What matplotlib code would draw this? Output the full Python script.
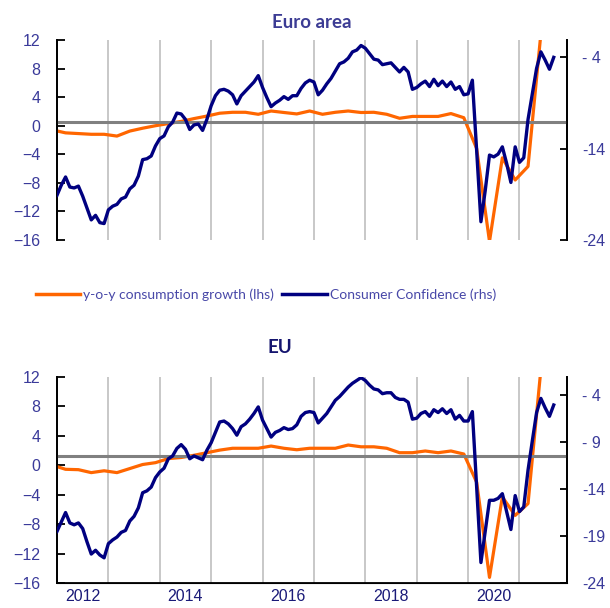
import numpy as np
import matplotlib.pyplot as plt
from matplotlib.lines import Line2D
from matplotlib.ticker import FuncFormatter

plt.rcParams['font.family'] = ['Liberation Sans', 'DejaVu Sans']

# ---------------------- Data -------------------
# consumer confidence, monthly, Jan 2012 .. Sep 2021 (rhs)
conf_ea = [-19.1, -18.0, -17.1, -18.2, -18.3, -18.1, -19.2, -20.5, -21.8, -21.3, -22.1, -22.2,
           -20.7, -20.3, -20.1, -19.5, -19.3, -18.4, -18.0, -17.0, -15.2, -15.1, -14.8, -13.7,
           -12.9, -12.6, -11.6, -11.1, -10.1, -10.2, -10.8, -11.9, -11.4, -11.3, -12.0, -10.8,
           -9.3, -8.2, -7.6, -7.5, -7.7, -8.1, -9.1, -8.2, -7.7, -7.2, -6.7, -6.0,
           -7.3, -8.4, -9.4, -9.0, -8.7, -8.3, -8.6, -8.2, -8.2, -7.4, -6.8, -6.5,
           -6.7, -8.1, -7.6, -6.9, -6.3, -5.5, -4.7, -4.5, -4.1, -3.4, -3.2, -2.7,
           -3.0, -3.6, -4.2, -4.3, -4.8, -4.7, -4.6, -5.1, -5.6, -5.1, -5.6, -7.5,
           -7.3, -6.9, -6.6, -7.2, -6.4, -7.1, -6.6, -7.2, -6.7, -7.5, -7.2, -8.1,
           -8.0, -6.5, -14.2, -22.0, -18.6, -14.7, -14.9, -14.6, -13.8, -15.6, -17.7, -13.8,
           -15.5, -15.0, -10.8, -8.0, -5.2, -3.4, -4.3, -5.3, -4.0]
conf_eu = [-18.5, -17.5, -16.5, -17.6, -17.8, -17.6, -18.2, -19.6, -20.9, -20.5, -21.0, -21.3,
           -19.8, -19.4, -19.1, -18.6, -18.4, -17.4, -16.9, -16.0, -14.4, -14.2, -13.8, -12.8,
           -12.2, -11.8, -10.8, -10.5, -9.7, -9.3, -9.8, -10.8, -10.5, -10.7, -10.9, -9.9,
           -9.1, -8.0, -6.9, -6.8, -7.1, -7.6, -8.3, -7.4, -7.1, -6.6, -6.0, -5.3,
           -6.7, -7.6, -8.5, -8.0, -7.8, -7.5, -7.7, -7.6, -7.2, -6.3, -5.9, -5.8,
           -5.9, -7.0, -6.5, -6.0, -5.3, -4.6, -4.2, -3.7, -3.2, -2.8, -2.5, -2.2,
           -2.5, -3.0, -3.4, -3.5, -3.9, -3.8, -3.8, -4.3, -4.5, -4.5, -4.8, -6.6,
           -6.5, -6.0, -5.8, -6.3, -5.6, -5.9, -5.5, -6.0, -5.6, -6.6, -6.2, -6.8,
           -6.8, -5.8, -13.8, -21.8, -18.5, -15.2, -15.2, -15.0, -14.5, -16.4, -18.3, -14.7,
           -16.4, -15.9, -12.0, -8.9, -5.9, -4.4, -5.4, -6.3, -5.1]

# y-o-y consumption growth, quarterly, Q4 2011 .. Q2 2021 (lhs)
cons_ea = [-0.6,
           -1.0, -1.1, -1.2, -1.2,
           -1.45, -0.75, -0.35, 0.0,
           0.3, 0.6, 1.0, 1.35,
           1.75, 1.88, 1.88, 1.6,
           2.06, 1.85, 1.65, 2.06,
           1.6, 1.88, 2.06, 1.85,
           1.88, 1.6, 1.04, 1.3,
           1.3, 1.3, 1.7, 1.12,
           -3.2, -16.2, -4.5, -7.6,
           -5.7, 12.9]
cons_eu = [0.0,
           -0.55, -0.6, -1.0, -0.75,
           -1.0, -0.45, 0.1, 0.35,
           0.9, 1.05, 1.35, 1.7,
           2.05, 2.3, 2.3, 2.3,
           2.6, 2.3, 2.1, 2.3,
           2.3, 2.3, 2.74, 2.5,
           2.5, 2.3, 1.7, 1.7,
           1.93, 1.7, 1.93, 1.52,
           -2.3, -15.2, -4.3, -6.8,
           -5.2, 13.0]

# long-term average of confidence (grey line, rhs)
avg_ea = -11.05
avg_eu = -10.5

years = [2012, 2014, 2016, 2018, 2020]
panels = [("Euro area", conf_ea, cons_ea, avg_ea, [-4, -14, -24]),
          ("EU", conf_eu, cons_eu, avg_eu, [-4, -9, -14, -19, -24])]

# ---------------------- Style -------------------
ORANGE = '#FF6600'
NAVY = '#000080'
TICKCOL = '#3A3A9A'


def rhs_label(v, pos):
    v = int(round(abs(v)))
    return "- %d" % v if v < 10 else "-%d" % v


fig = plt.figure(figsize=(6.1, 6.08), dpi=100)
W, H = 610, 608
boxes = [(57, 40, 510, 200), (57, 376.7, 510, 206.6)]

for i, (title, conf, cons, avg, rticks) in enumerate(panels):
    x0, y0, w, h = boxes[i]
    ax = fig.add_axes([x0 / W, 1 - (y0 + h) / H, w / W, h / H])
    ax2 = ax.twinx()

    months = np.arange(len(conf))
    qmonths = np.arange(len(cons)) * 3 - 1

    for m in range(12, 120, 12):
        ax.axvline(m, color='#C4C4C4', lw=1.3, zorder=0)

    ax.plot(qmonths, cons, color=ORANGE, lw=2.3, zorder=3)
    ax2.axhline(avg, color='#808080', lw=2.2, zorder=1)
    ax2.plot(months, conf, color=NAVY, lw=2.4, zorder=3)

    ax.set_xlim(0, 119.1)
    ax.set_ylim(-16, 12)
    ax2.set_ylim(-24, -2.1)
    ax.set_yticks(range(-16, 13, 4))
    ax2.set_yticks(rticks)
    ax2.yaxis.set_major_formatter(FuncFormatter(rhs_label))

    for a in (ax, ax2):
        a.spines['top'].set_visible(False)
        a.spines['left'].set_linewidth(1.3)
        a.spines['right'].set_linewidth(1.3)
    ax.tick_params(axis='y', direction='in', length=6, width=1.3, labelsize=11.5,
                   labelcolor=TICKCOL, pad=12)
    ax2.tick_params(axis='y', direction='in', length=5, width=1.3, labelsize=11.5,
                    labelcolor=TICKCOL, pad=11)

    if i == 0:
        ax.spines['bottom'].set_visible(False)
        ax2.spines['bottom'].set_visible(False)
        ax.set_xticks([])
        fig.text(312 / W, 1 - 22 / H, title, ha='center', va='center', fontsize=13.5,
                 fontweight='bold', color='#3C3C94', family='Lato')
    else:
        ax.spines['bottom'].set_linewidth(1.3)
        ax.set_xticks([(y - 2012) * 12 + 6 for y in years])
        ax.set_xticklabels([str(y) for y in years])
        ax.tick_params(axis='x', length=0, labelsize=11.5, labelcolor='#1A1A78', pad=4)
        fig.text(280 / W, 1 - 348 / H, title, ha='center', va='center', fontsize=13.5,
                 fontweight='bold', color='#14146E', family='Lato')

handles = [Line2D([], [], color=ORANGE, lw=2.5), Line2D([], [], color=NAVY, lw=2.5)]
labels = ['y-o-y consumption growth (lhs)', 'Consumer Confidence (rhs)']
fig.legend(handles, labels, loc='center', bbox_to_anchor=(266 / W, 1 - 295 / H), ncol=2,
           frameon=False, handlelength=3.2, handletextpad=0.2, columnspacing=0.6,
           prop={'family': 'Lato', 'size': 10}, labelcolor='#4848A8')

fig.savefig('out.png', dpi=100)
